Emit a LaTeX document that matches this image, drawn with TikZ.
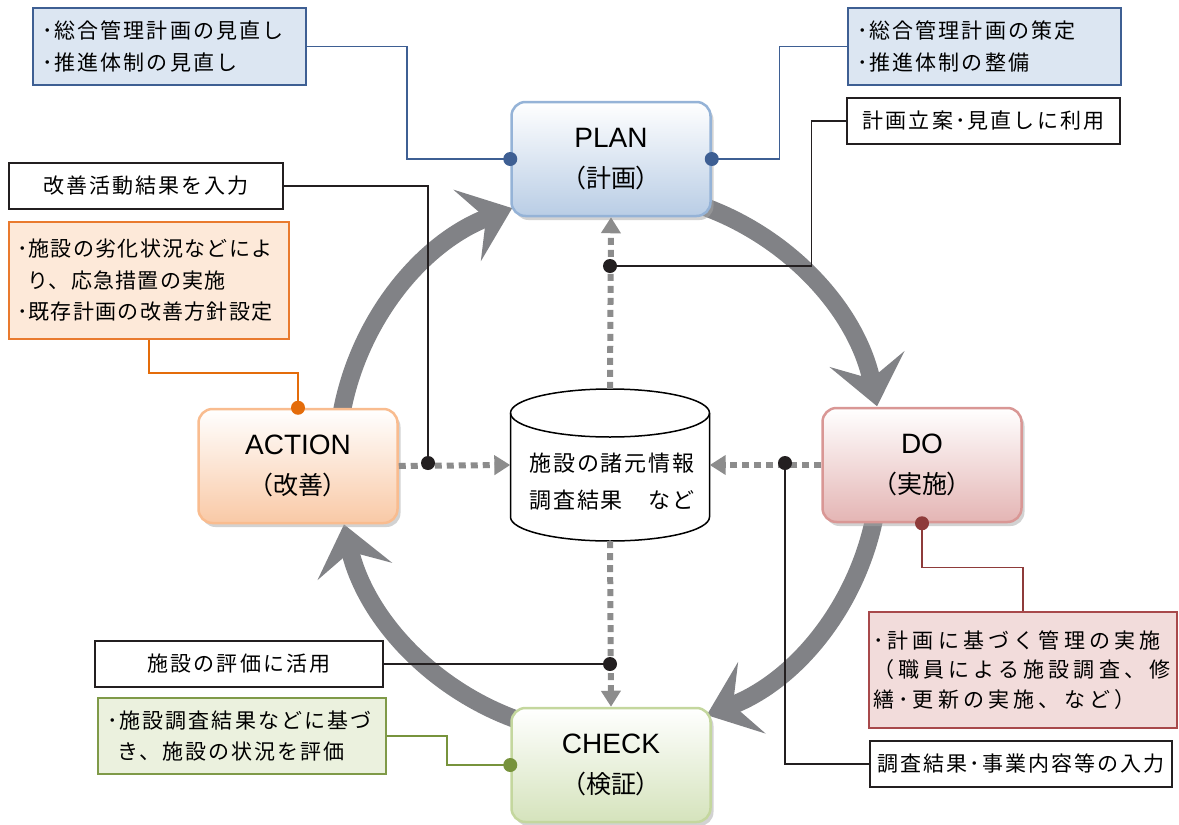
\documentclass[tikz,border=0pt]{standalone}
\usepackage{fontspec}
\setmainfont{Noto Sans CJK JP}
\newfontfamily\cjkp{Noto Sans CJK JP}[RawFeature=+palt]
\newfontfamily\latin{Liberation Sans}
\usetikzlibrary{arrows.meta,shadows,calc}
\definecolor{arcgray}{HTML}{818286}
\definecolor{dotgray}{HTML}{8C8C8C}
\definecolor{inkblack}{HTML}{231F20}
\definecolor{blueline}{HTML}{3E5F93}
\definecolor{bluefill}{HTML}{DCE6F2}
\definecolor{planfill}{HTML}{B9CDE5}
\definecolor{planborder}{HTML}{95B3D7}
\definecolor{orline}{HTML}{E46C0A}
\definecolor{orborder}{HTML}{E97A2E}
\definecolor{orfill}{HTML}{FDE9D9}
\definecolor{actfill}{HTML}{F9C9A6}
\definecolor{actborder}{HTML}{F9BC8F}
\definecolor{redline}{HTML}{8E3B3A}
\definecolor{redborder}{HTML}{A8494B}
\definecolor{redfill}{HTML}{F2DCDB}
\definecolor{dofill}{HTML}{E4B5B4}
\definecolor{doborder}{HTML}{D99795}
\definecolor{grline}{HTML}{77933C}
\definecolor{grborder}{HTML}{7F9A48}
\definecolor{grfill}{HTML}{EBF1DE}
\definecolor{ckfill}{HTML}{D5E3BC}
\definecolor{ckborder}{HTML}{C4D79E}
\begin{document}
\begin{tikzpicture}[x=1pt,y=1pt,
  mainbox/.style={rounded corners=14pt, minimum width=199pt, minimum height=114pt,
    line width=2.5pt, align=center, inner sep=0pt,
    font=\cjkp\fontsize{25}{40}\selectfont,
    drop shadow={shadow xshift=3pt,shadow yshift=-4pt,fill=black!35}},
  sidebox/.style={line width=1.5pt, align=left, inner xsep=9pt, inner ysep=0pt,
    font=\fontsize{21}{31.5}\selectfont\addfontfeature{LetterSpace=10}},
  wbox/.style={draw=inkblack, line width=1.5pt, fill=white, inner sep=0pt,
    minimum height=46pt, font=\fontsize{21}{24}\selectfont\addfontfeature{LetterSpace=10}},
  bigarrow/.style={draw=arcgray, line width=18pt,
    -{Stealth[length=48pt,width=76pt,inset=20pt]}},
  dotarrow/.style={draw=dotgray, line width=6pt, dash pattern=on 7pt off 5pt,
    -{Triangle[length=16pt,width=19pt]}},
  link/.style={line width=1.5pt},
  blob/.style={circle, inner sep=0pt, minimum size=14pt}
]
\useasboundingbox (0,0) rectangle (1179,-825);
\coordinate (C) at (610,-463);
% big cycle arrows
\draw[bigarrow] ($(C)+(175:273)$) arc[start angle=175, end angle=111, radius=273];
\draw[bigarrow] ($(C)+(75:273)$) arc[start angle=75, end angle=12, radius=273];
\draw[bigarrow] ($(C)+(-5:270)$) arc[start angle=-5, end angle=-69, radius=270];
\draw[bigarrow] ($(C)+(-105:273)$) arc[start angle=-105, end angle=-167, radius=273];
% main boxes
\node[mainbox, draw=planborder, top color=white, bottom color=planfill] (pl) at (611,-159)
  {{\latin\fontsize{28}{30}\selectfont PLAN}\\（計画）};
\node[mainbox, draw=actborder, top color=white, bottom color=actfill] (ac) at (298,-466)
  {{\latin\fontsize{28}{30}\selectfont ACTION}\\（改善）};
\node[mainbox, draw=doborder, top color=white, bottom color=dofill] (do) at (922,-465)
  {{\latin\fontsize{28}{30}\selectfont DO}\\（実施）};
\node[mainbox, draw=ckborder, top color=white, bottom color=ckfill] (ck) at (611,-765)
  {{\latin\fontsize{28}{30}\selectfont CHECK}\\（検証）};
% database cylinder
\node[minimum width=199pt, minimum height=152pt, inner sep=0pt] (db) at (610,-465) {};
\draw[line width=1.5pt, fill=white] (510.5,-413) -- (510.5,-517)
  arc[start angle=180, end angle=360, x radius=99.5, y radius=24] -- (709.5,-413)
  arc[start angle=0, end angle=180, x radius=99.5, y radius=24] -- cycle;
\draw[line width=1.5pt] (510.5,-413) arc[start angle=180, end angle=360, x radius=99.5, y radius=24];
\node[align=center, font=\fontsize{22}{37}\selectfont\addfontfeature{LetterSpace=9}] (dbtext) at (612,-482) {施設の諸元情報\\調査結果　など};
% dotted arrows
\draw[dotarrow] (db.north) -- (pl.south);
\draw[dotarrow] (ac.east) -- (db.west);
\draw[dotarrow] (do.west) -- (db.east);
\draw[dotarrow] (db.south) -- (ck.north);
% junction coordinates
\coordinate (j1) at (610,-266);
\coordinate (j2) at (428,-463);
\coordinate (j3) at (785,-463);
\coordinate (j4) at (610,-664);
% side boxes
\node[sidebox, draw=blueline, fill=bluefill, text width=255pt, minimum height=77pt] (tl) at (169.5,-46.5)
  {･総合管理計画の見直し\\･推進体制の見直し};
\node[sidebox, draw=blueline, fill=bluefill, text width=255pt, minimum height=77pt] (tr) at (984.5,-46.5)
  {･総合管理計画の策定\\･推進体制の整備};
\node[sidebox, draw=orborder, fill=orfill, text width=264pt, minimum height=117pt, inner xsep=8pt,
  font=\fontsize{21}{31.5}\selectfont\addfontfeature{LetterSpace=6}] (or) at (149,-280.5)
  {･施設の劣化状況などによ\\\hphantom{･}り、応急措置の実施\\･既存計画の改善方針設定};
\node[sidebox, draw=redborder, fill=redfill, text width=300pt, minimum height=116pt, inner xsep=4pt,
  font=\fontsize{21}{29.5}\selectfont\addfontfeature{LetterSpace=20}] (rd) at (1023,-670)
  {･計画に基づく管理の実施\\（職員による施設調査、修\\繕･更新の実施、など）};
\node[sidebox, draw=grborder, fill=grfill, text width=270pt, minimum height=76pt] (gr) at (242,-736)
  {･施設調査結果などに基づ\\\hphantom{･}き、施設の状況を評価};
% white label boxes
\node[wbox, minimum width=274pt] (wb1) at (146,-186) {改善活動結果を入力};
\node[wbox, minimum width=273pt] (wb2) at (983.5,-121) {計画立案･見直しに利用};
\node[wbox, minimum width=288pt] (wb3) at (239,-664) {施設の評価に活用};
\node[wbox, minimum width=302pt] (wb4) at (1021,-764) {調査結果･事業内容等の入力};
% coloured links
\draw[link, blueline] (tl.east) -- ++(100,0) |- (pl.west);
\draw[link, blueline] (tr.west) -- ++(-68,0) |- (pl.east);
\draw[link, orline] (or.south) -- ++(0,-33) -| (ac.north);
\draw[link, redline] (do.south) -- ++(0,-44) -| (rd.north);
\draw[link, grline] (gr.east) -- ++(60,0) |- (ck.west);
% black links
\draw[link, inkblack] (wb2.west) -- ++(-35,0) |- (j1);
\draw[link, inkblack] (wb1.east) -| (j2);
\draw[link, inkblack] (wb4.west) -| (j3);
\draw[link, inkblack] (wb3.east) -- (j4);
% dots
\node[blob, fill=blueline] (d1) at (pl.west) {};
\node[blob, fill=blueline] (d2) at (pl.east) {};
\node[blob, fill=orline] (d3) at (ac.north) {};
\node[blob, fill=redline] (d4) at (do.south) {};
\node[blob, fill=grline] (d5) at (ck.west) {};
\node[blob, fill=inkblack] (b1) at (j1) {};
\node[blob, fill=inkblack] (b2) at (j2) {};
\node[blob, fill=inkblack] (b3) at (j3) {};
\node[blob, fill=inkblack] (b4) at (j4) {};
\end{tikzpicture}
\end{document}
